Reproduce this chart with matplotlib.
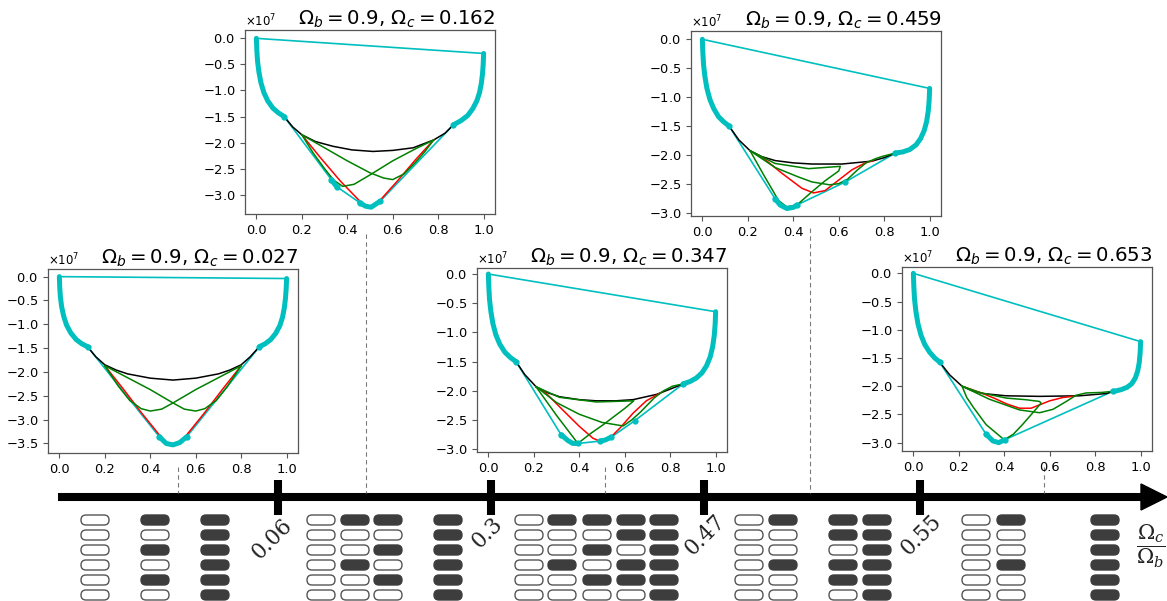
import matplotlib
matplotlib.use('Agg')
import matplotlib.pyplot as plt
from matplotlib.patches import FancyBboxPatch, Polygon
from matplotlib.ticker import MultipleLocator, ScalarFormatter

# ---------------- data (y in units of 1e7) ----------------
omega_b = 0.9
omega_c = [0.027, 0.162, 0.347, 0.459, 0.653]

# panel 1, Omega_c = 0.027
left1 = [(0, 0), (0.0015, -0.21), (0.0044, -0.42), (0.01, -0.63), (0.019, -0.83), (0.032, -1.02), (0.05, -1.18),
         (0.074, -1.32), (0.099, -1.41), (0.124, -1.47)]
bottom1 = [[(0.44, -3.36), (0.47, -3.5), (0.5, -3.53), (0.53, -3.48), (0.56, -3.36)]]
mid1 = []
right1 = [(1.0, -0.04), (0.998, -0.25), (0.995, -0.45), (0.99, -0.65), (0.982, -0.85), (0.97, -1.03),
          (0.952, -1.19), (0.93, -1.32), (0.905, -1.41), (0.88, -1.47)]
black1 = [(0.124, -1.47), (0.16, -1.68), (0.2, -1.85), (0.25, -1.96), (0.3, -2.04), (0.4, -2.13), (0.5, -2.17),
          (0.6, -2.13), (0.7, -2.04), (0.75, -1.96), (0.8, -1.85), (0.84, -1.68), (0.88, -1.47)]
red1 = [[(0.2, -1.87), (0.28, -2.35), (0.36, -2.85), (0.45, -3.38)],
        [(0.8, -1.87), (0.72, -2.35), (0.64, -2.85), (0.55, -3.38)]]
green1 = [[(0.2, -1.87), (0.26, -2.3), (0.31, -2.6), (0.36, -2.77), (0.4, -2.82), (0.45, -2.78), (0.5, -2.65),
           (0.6, -2.37), (0.7, -2.12), (0.8, -1.87)],
          [(0.8, -1.87), (0.74, -2.3), (0.69, -2.6), (0.64, -2.77), (0.6, -2.82), (0.55, -2.78), (0.5, -2.65),
           (0.4, -2.37), (0.3, -2.12), (0.2, -1.87)]]

# panel 2, Omega_c = 0.162
left2 = [(0, 0), (0.002, -0.22), (0.005, -0.43), (0.011, -0.64), (0.02, -0.85), (0.033, -1.04), (0.05, -1.2),
         (0.073, -1.34), (0.097, -1.43), (0.122, -1.5)]
bottom2 = [[(0.33, -2.71), (0.345, -2.8), (0.355, -2.85)],
           [(0.454, -3.15), (0.48, -3.22), (0.505, -3.24), (0.543, -3.13)]]
mid2 = []
right2 = [(1.0, -0.29), (0.998, -0.5), (0.995, -0.68), (0.99, -0.86), (0.982, -1.04), (0.97, -1.2), (0.952, -1.35),
          (0.93, -1.48), (0.9, -1.58), (0.867, -1.66)]
black2 = [(0.122, -1.5), (0.16, -1.7), (0.2, -1.85), (0.26, -1.98), (0.336, -2.07), (0.42, -2.14), (0.513, -2.17),
          (0.6, -2.15), (0.69, -2.1), (0.78, -1.95), (0.83, -1.82), (0.867, -1.66)]
red2 = [[(0.2, -1.85), (0.28, -2.28), (0.37, -2.74), (0.45, -3.1)],
        [(0.78, -1.95), (0.7, -2.33), (0.62, -2.74), (0.55, -3.08)]]
green2 = [[(0.2, -1.85), (0.25, -2.2), (0.3, -2.5), (0.34, -2.72), (0.38, -2.84), (0.43, -2.8), (0.5, -2.62),
           (0.6, -2.35), (0.7, -2.12), (0.78, -1.95)],
          [(0.2, -1.85), (0.3, -2.1), (0.4, -2.35), (0.5, -2.58), (0.56, -2.68), (0.6, -2.71), (0.65, -2.6),
           (0.7, -2.38), (0.74, -2.18), (0.78, -1.95)]]

# panel 3, Omega_c = 0.347
left3 = [(0, 0), (0.002, -0.22), (0.005, -0.43), (0.011, -0.64), (0.02, -0.85), (0.033, -1.04), (0.05, -1.2),
         (0.073, -1.34), (0.097, -1.43), (0.122, -1.5)]
bottom3 = [[(0.32, -2.75), (0.35, -2.85), (0.372, -2.9), (0.394, -2.9)],
           [(0.49, -2.86), (0.515, -2.84), (0.541, -2.79)]]
mid3 = [(0.644, -2.51)]
right3 = [(1.0, -0.645), (0.998, -0.85), (0.994, -1.05), (0.987, -1.24), (0.976, -1.42), (0.96, -1.57),
          (0.94, -1.69), (0.915, -1.78), (0.887, -1.84), (0.857, -1.88)]
black3 = [(0.122, -1.5), (0.16, -1.72), (0.21, -1.93), (0.26, -2.03), (0.313, -2.1), (0.4, -2.15), (0.475, -2.17),
          (0.56, -2.17), (0.637, -2.15), (0.74, -2.06), (0.8, -1.97), (0.857, -1.88)]
red3 = [[(0.21, -1.93), (0.254, -2.04), (0.328, -2.33), (0.401, -2.61), (0.46, -2.81), (0.49, -2.86), (0.534, -2.81),
         (0.578, -2.64), (0.637, -2.38), (0.695, -2.17), (0.76, -2.03)]]
green3 = [[(0.21, -1.93), (0.313, -2.11), (0.475, -2.19), (0.64, -2.17), (0.6, -2.3), (0.505, -2.58), (0.446, -2.74),
           (0.394, -2.9), (0.3, -2.42), (0.21, -1.93)],
          [(0.21, -1.93), (0.3, -2.2), (0.4, -2.4), (0.5, -2.54), (0.593, -2.6), (0.63, -2.5), (0.67, -2.36),
           (0.73, -2.12), (0.77, -2.0), (0.81, -1.92), (0.857, -1.88)]]

# panel 4, Omega_c = 0.459
left4 = [(0, 0), (0.002, -0.22), (0.005, -0.43), (0.011, -0.64), (0.02, -0.85), (0.033, -1.04), (0.05, -1.2),
         (0.071, -1.34), (0.094, -1.43), (0.117, -1.5)]
bottom4 = [[(0.32, -2.76), (0.342, -2.87), (0.372, -2.93), (0.401, -2.91), (0.416, -2.87)]]
mid4 = [(0.629, -2.47)]
right4 = [(1.0, -0.85), (0.998, -1.05), (0.994, -1.24), (0.987, -1.42), (0.976, -1.58), (0.96, -1.72),
          (0.94, -1.83), (0.912, -1.91), (0.882, -1.95), (0.849, -1.97)]
black4 = [(0.117, -1.5), (0.16, -1.74), (0.21, -1.93), (0.26, -2.03), (0.32, -2.1), (0.4, -2.14), (0.482, -2.16),
          (0.614, -2.16), (0.746, -2.11), (0.8, -2.05), (0.849, -1.97)]
red4 = [[(0.21, -1.93), (0.269, -2.06), (0.35, -2.32), (0.438, -2.58), (0.489, -2.66), (0.54, -2.62), (0.599, -2.44),
         (0.658, -2.26), (0.717, -2.14), (0.753, -2.1)]]
green4 = [[(0.21, -1.93), (0.32, -2.15), (0.467, -2.24), (0.607, -2.2), (0.6, -2.28), (0.54, -2.45), (0.482, -2.64),
           (0.416, -2.87), (0.37, -2.9), (0.335, -2.79), (0.27, -2.35), (0.21, -1.93)],
          [(0.21, -1.93), (0.32, -2.22), (0.42, -2.38), (0.482, -2.47), (0.56, -2.52), (0.6, -2.5), (0.64, -2.42),
           (0.68, -2.27), (0.72, -2.14), (0.76, -2.07), (0.79, -2.03), (0.849, -1.97)]]

# panel 5, Omega_c = 0.653
left5 = [(0, 0), (0.002, -0.23), (0.005, -0.45), (0.011, -0.67), (0.02, -0.89), (0.033, -1.09), (0.05, -1.26),
         (0.072, -1.4), (0.094, -1.5), (0.115, -1.57)]
bottom5 = [[(0.32, -2.85), (0.35, -2.97), (0.376, -3.0), (0.401, -2.95)]]
mid5 = []
right5 = [(1.0, -1.21), (0.998, -1.4), (0.994, -1.58), (0.987, -1.73), (0.976, -1.86), (0.96, -1.96),
          (0.94, -2.02), (0.915, -2.06), (0.895, -2.08), (0.878, -2.09)]
black5 = [(0.115, -1.57), (0.16, -1.8), (0.214, -2.0), (0.26, -2.08), (0.306, -2.13), (0.408, -2.17), (0.555, -2.18),
          (0.731, -2.17), (0.849, -2.13), (0.878, -2.09)]
red5 = [[(0.214, -2.0), (0.3, -2.12), (0.36, -2.22), (0.408, -2.31), (0.467, -2.39), (0.518, -2.39), (0.562, -2.32),
         (0.599, -2.26), (0.658, -2.2), (0.702, -2.18)]]
green5 = [[(0.214, -2.0), (0.29, -2.11), (0.408, -2.21), (0.496, -2.24), (0.555, -2.27), (0.562, -2.3), (0.53, -2.45),
           (0.48, -2.68), (0.44, -2.85), (0.4, -2.95), (0.32, -2.68), (0.265, -2.38), (0.235, -2.2), (0.214, -2.0)],
          [(0.214, -2.0), (0.334, -2.23), (0.467, -2.42), (0.555, -2.47), (0.614, -2.41), (0.673, -2.27),
           (0.716, -2.16), (0.76, -2.12), (0.83, -2.11), (0.878, -2.09)]]

# number line
thresholds = ['0.06', '0.3', '0.47', '0.55']
# pill columns in each region, rows top to bottom, 1 = filled
pills_r1 = [[0, 0, 0, 0, 0, 0], [1, 0, 1, 0, 1, 0], [1, 1, 1, 1, 1, 1]]
pills_r2 = [[0, 0, 0, 0, 0, 0], [1, 0, 0, 1, 0, 0], [1, 0, 1, 0, 1, 0], [1, 1, 1, 1, 1, 1]]
pills_r3 = [[0, 0, 0, 0, 0, 0], [1, 0, 0, 1, 0, 0], [1, 0, 1, 0, 1, 0], [1, 1, 0, 1, 1, 0], [1, 1, 1, 1, 1, 1]]
pills_r4 = [[0, 0, 0, 0, 0, 0], [1, 0, 0, 1, 0, 0], [1, 1, 0, 1, 1, 0], [1, 1, 1, 1, 1, 1]]
pills_r5 = [[0, 0, 0, 0, 0, 0], [1, 0, 0, 1, 0, 0], [1, 1, 1, 1, 1, 1]]

panels = [
    (left1, bottom1, mid1, right1, black1, red1, green1),
    (left2, bottom2, mid2, right2, black2, red2, green2),
    (left3, bottom3, mid3, right3, black3, red3, green3),
    (left4, bottom4, mid4, right4, black4, red4, green4),
    (left5, bottom5, mid5, right5, black5, red5, green5),
]

# ---------------- layout (pixels) ----------------
W, H = 1167, 601
boxes = [(48, 269, 298, 453), (245, 30, 495, 214), (477, 268, 727, 452), (691, 31, 941, 216), (902, 267, 1152, 451)]
ylims = [(-3.70, 0.16), (-3.37, 0.16), (-3.046, 0.103), (-3.06, 0.144), (-3.148, 0.112)]
line_y = 497
bar_x = [278, 491, 704, 920]
label_xy = [(272, 539), (487, 533), (705, 535), (921, 535)]
pill_cols = [[95, 155, 215], [321, 355, 388, 448], [529, 562, 597, 631, 664], [749, 783, 843, 877], [976, 1011, 1105]]
pill_rows = [520, 535, 550, 565, 580, 595]
dashes = [(178, 467), (366, 234), (605, 467), (810, 228), (1044, 467)]

fig = plt.figure(figsize=(W / 100, H / 100), dpi=100)
bg = fig.add_axes([0, 0, 1, 1])
bg.set_xlim(0, W)
bg.set_ylim(H, 0)
bg.axis('off')

# arrow
bg.plot([58, 1146], [line_y, line_y], color='k', lw=5.8, solid_capstyle='butt')
bg.add_patch(Polygon([[1141, line_y - 13], [1167, line_y], [1141, line_y + 13]], closed=True, color='k'))
for x, (tx, ty), lab in zip(bar_x, label_xy, thresholds):
    bg.plot([x, x], [480, 515], color='k', lw=5.8, solid_capstyle='butt')
    bg.text(tx, ty, lab, rotation=45, ha='center', va='center', fontsize=15.5, family='DejaVu Serif',
            color='#222222')
bg.text(1151, 546, r'$\dfrac{\Omega_c}{\Omega_b}$', ha='center', va='center', fontsize=15,
        math_fontfamily='dejavuserif', color='#222222')

for x, y0 in dashes:
    bg.plot([x, x], [y0, line_y - 4], color='#7a7a7a', lw=0.8, ls=(0, (4, 3)))

# pills
for group, xs in zip([pills_r1, pills_r2, pills_r3, pills_r4, pills_r5], pill_cols):
    for pattern, cx in zip(group, xs):
        for v, cy in zip(pattern, pill_rows):
            fc = '#3d3d3d' if v else 'white'
            ec = '#3d3d3d' if v else '#555555'
            bg.add_patch(FancyBboxPatch((cx - 14, cy - 5), 28, 10, boxstyle='round,pad=0,rounding_size=5',
                                        fc=fc, ec=ec, lw=1.0))


def draw_line(ax, pts, **kw):
    ax.plot([p[0] for p in pts], [p[1] * 1e7 for p in pts], **kw)


for (left, bottom, mid, right, black, reds, greens), (l, t, r, b), yl, oc in zip(panels, boxes, ylims, omega_c):
    ax = fig.add_axes([l / W, 1 - b / H, (r - l) / W, (b - t) / H])
    hull = left + [p for piece in bottom for p in piece] + mid + right[::-1] + [left[0]]
    draw_line(ax, hull, color='c', lw=1.2)
    draw_line(ax, black, color='k', lw=1.1)
    for c in reds:
        draw_line(ax, c, color='r', lw=1.1)
    for c in greens:
        draw_line(ax, c, color='g', lw=1.1)
    for piece in [left] + bottom + [right]:
        draw_line(ax, piece, color='c', lw=3.6, solid_capstyle='round', solid_joinstyle='round')
    dots = [left[-1], right[-1]] + [piece[0] for piece in bottom] + [piece[-1] for piece in bottom] + mid
    draw_line(ax, dots, color='c', ls='none', marker='o', ms=3.5)

    ax.set_xlim(-0.05, 1.05)
    ax.set_ylim(yl[0] * 1e7, yl[1] * 1e7)
    ax.xaxis.set_major_locator(MultipleLocator(0.2))
    ax.yaxis.set_major_locator(MultipleLocator(0.5e7))
    fmt = ScalarFormatter(useMathText=True)
    ax.yaxis.set_major_formatter(fmt)
    ax.tick_params(labelsize=9.4, length=3.5, color='#555555')
    ax.yaxis.get_offset_text().set_fontsize(8.5)
    for s in ax.spines.values():
        s.set_color('#555555')
        s.set_linewidth(0.9)
    ax.set_title(r'$\Omega_b = %s$, $\Omega_c = %s$' % (omega_b, oc), loc='right', fontsize=14.2, pad=3)

fig.savefig('out.png', dpi=100)
